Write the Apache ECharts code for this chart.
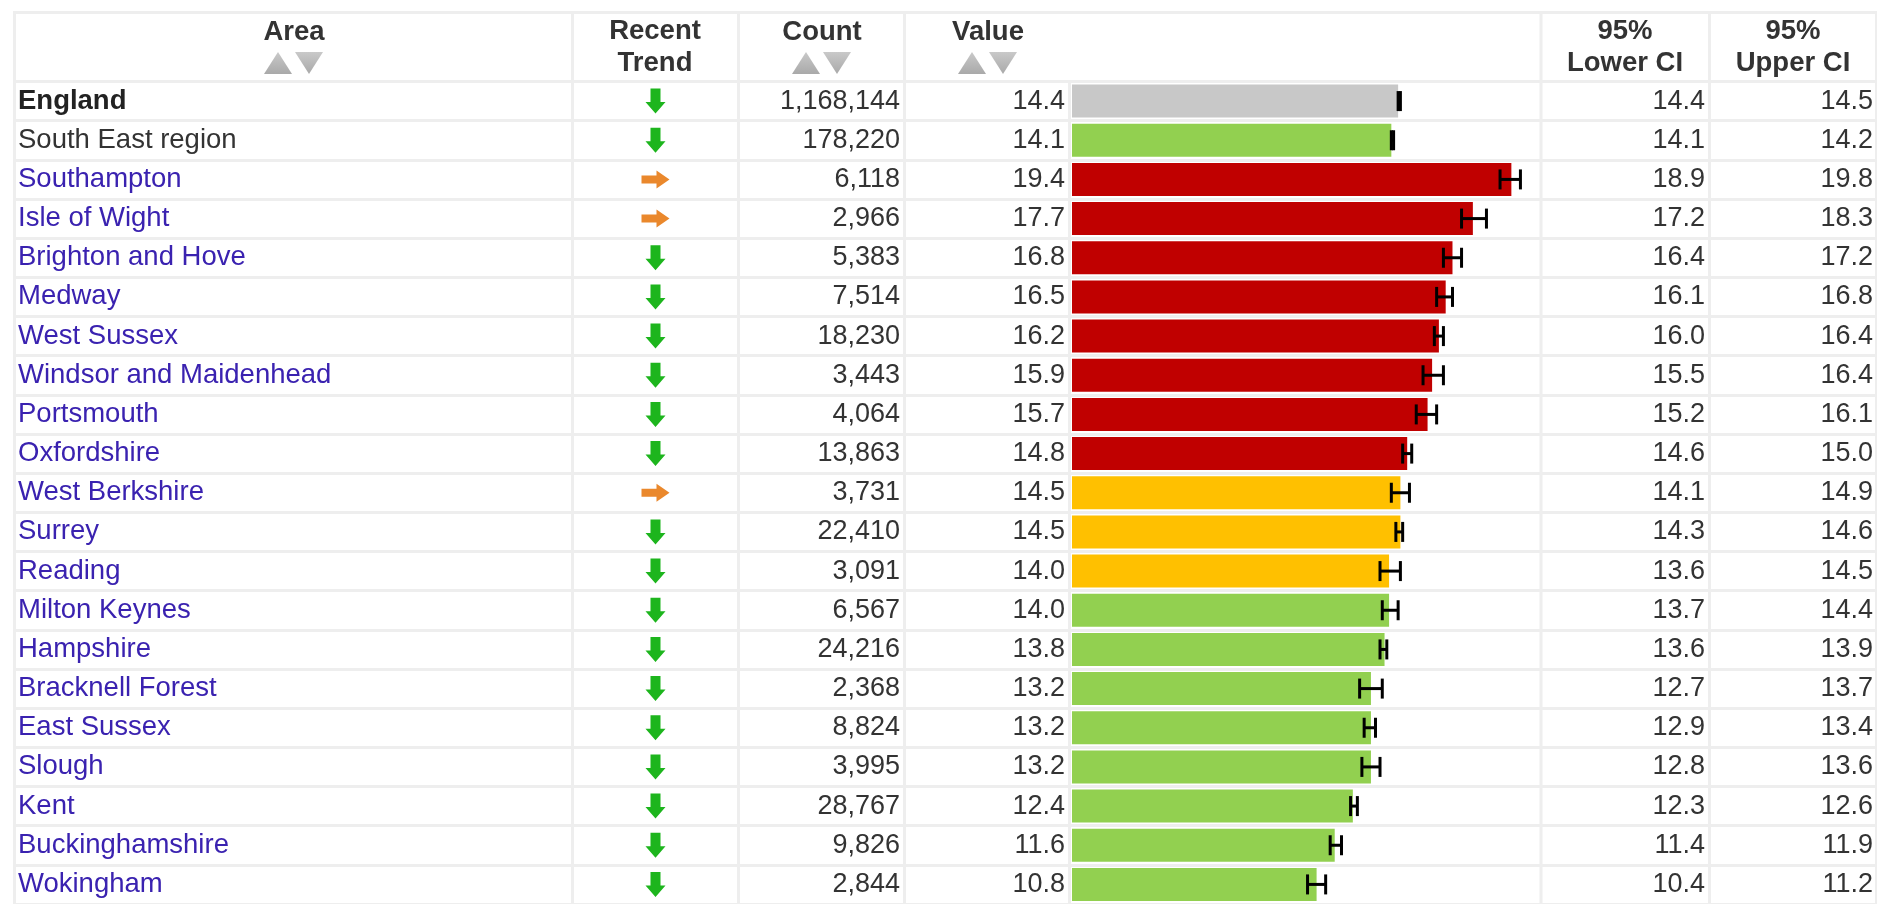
<!DOCTYPE html>
<html>
<head>
<meta charset="utf-8">
<script src="https://cdn.jsdelivr.net/npm/echarts@6/dist/echarts.min.js"></script>
<style>
html,body{margin:0;padding:0;background:#ffffff;}
#chart{width:1877px;height:904px;}
</style>
</head>
<body>
<div id="chart"></div>
<script>
// ---------------- data ----------------
const areas = ['England','South East region','Southampton','Isle of Wight','Brighton and Hove','Medway','West Sussex','Windsor and Maidenhead','Portsmouth','Oxfordshire','West Berkshire','Surrey','Reading','Milton Keynes','Hampshire','Bracknell Forest','East Sussex','Slough','Kent','Buckinghamshire','Wokingham'];
const trends = ['down','down','flat','flat','down','down','down','down','down','down','flat','down','down','down','down','down','down','down','down','down','down'];
const counts = [1168144,178220,6118,2966,5383,7514,18230,3443,4064,13863,3731,22410,3091,6567,24216,2368,8824,3995,28767,9826,2844];
const values = [14.4,14.1,19.4,17.7,16.8,16.5,16.2,15.9,15.7,14.8,14.5,14.5,14.0,14.0,13.8,13.2,13.2,13.2,12.4,11.6,10.8];
const lowerCI = [14.4,14.1,18.9,17.2,16.4,16.1,16.0,15.5,15.2,14.6,14.1,14.3,13.6,13.7,13.6,12.7,12.9,12.8,12.3,11.4,10.4];
const upperCI = [14.5,14.2,19.8,18.3,17.2,16.8,16.4,16.4,16.1,15.0,14.9,14.6,14.5,14.4,13.9,13.7,13.4,13.6,12.6,11.9,11.2];
const significance = ['benchmark','similar','higher','higher','higher','higher','higher','higher','higher','higher','worse','worse','worse','similar','similar','similar','similar','similar','similar','similar','similar'];
const headerLabels = ['Area','Recent\nTrend','Count','Value','95%\nLower CI','95%\nUpper CI'];

// ---------------- styles / layout ----------------
const colorMap = {benchmark:'#c8c8c8', similar:'#92d050', higher:'#c00000', worse:'#ffc000'};
const LINE = '#eeeeee';
const FONT = '"Liberation Sans", Arial, sans-serif';
const ROW_TOP = 81.5, ROW_H = 39.33, N = areas.length;
const TXT = '#333333', LINK = '#3a22b0';
const FS_NAME = 27.5, FS_NUM = 27, FS_HEAD = 27.5;

const cats = areas.map((a, i) => String(i));

function fmtCount(n){ return n.toString().replace(/\B(?=(\d{3})+(?!\d))/g, ','); }

const chart = echarts.init(document.getElementById('chart'), null, {renderer:'canvas'});

// structure lines (table borders)
const graphics = [];
function rect(x,y,w,h){ graphics.push({type:'rect', z:0, shape:{x,y,width:w,height:h}, style:{fill:LINE}, silent:true}); }
rect(13,11,1864,3);          // top border
rect(13,11,3,893);           // left border
rect(1875,11,2,893);         // right border
rect(571,14,3,890);
rect(737,14,3,890);
rect(903,14,3,890);
rect(1068,80,3,824);
rect(1539.5,14,3,890);
rect(1708,14,3,890);

// header labels
function htext(t,x,y){ graphics.push({type:'text', z:5, x, y, style:{text:t, fill:'#333333', font:'bold '+FS_HEAD+'px '+FONT, align:'center', verticalAlign:'middle'}, silent:true}); }
function hTwo(lbl,x){ const p = lbl.split('\n'); htext(p[0],x,31); htext(p[1],x,63.5); }
htext(headerLabels[0],294,32);
hTwo(headerLabels[1],655);
htext(headerLabels[2],822,32);
htext(headerLabels[3],988,32);
hTwo(headerLabels[4],1625);
hTwo(headerLabels[5],1793);

// sort triangles
function sorter(cx){
  const grad = new echarts.graphic.LinearGradient(0,0,0,1,[{offset:0,color:'#c9c9c9'},{offset:1,color:'#a9a9a9'}]);
  graphics.push({type:'polygon', z:5, shape:{points:[[cx-30,74],[cx-2,74],[cx-16,52]]}, style:{fill:grad}, silent:true});
  graphics.push({type:'polygon', z:5, shape:{points:[[cx+1,52],[cx+29,52],[cx+15,74]]}, style:{fill:grad}, silent:true});
}
sorter(294); sorter(822); sorter(988);

// text columns rendered through the category axis of grid 0
function renderRow(params, api){
  const i = api.value(1);
  const y = api.coord([0, i])[1];
  const kids = [];
  const nameStyle = i === 0 ? {fill:'#222222', font:'bold '+FS_NAME+'px '+FONT}
                  : i === 1 ? {fill:TXT, font:FS_NAME+'px '+FONT}
                  : {fill:LINK, font:FS_NAME+'px '+FONT};
  kids.push({type:'text', x:18, y, style:Object.assign({text:areas[i], align:'left', verticalAlign:'middle'}, nameStyle)});
  const cx = 655.5;
  if (trends[i] === 'down') {
    kids.push({type:'polygon', shape:{points:[[cx-5,y-12.5],[cx+5,y-12.5],[cx+5,y+1],[cx+10,y+1],[cx,y+12.5],[cx-10,y+1],[cx-5,y+1]]}, style:{fill:'#1db51d'}});
  } else {
    kids.push({type:'polygon', shape:{points:[[cx-14,y-4],[cx+1,y-4],[cx+1,y-9],[cx+14,y],[cx+1,y+9],[cx+1,y+4],[cx-14,y+4]]}, style:{fill:'#ea882c'}});
  }
  const num = (t,x) => ({type:'text', x, y, style:{text:t, fill:TXT, font:FS_NUM+'px '+FONT, align:'right', verticalAlign:'middle'}});
  kids.push(num(fmtCount(counts[i]), 900));
  kids.push(num(values[i].toFixed(1), 1065));
  kids.push(num(lowerCI[i].toFixed(1), 1705));
  kids.push(num(upperCI[i].toFixed(1), 1873));
  return {type:'group', children:kids};
}

function renderCI(params, api){
  const lo = api.coord([api.value(0), api.value(2)]);
  const hi = api.coord([api.value(1), api.value(2)]);
  const y = lo[1];
  const st = {stroke:'#000000', lineWidth:3};
  return {type:'group', children:[
    {type:'line', shape:{x1:lo[0], y1:y, x2:hi[0], y2:y}, style:st},
    {type:'line', shape:{x1:lo[0], y1:y-10, x2:lo[0], y2:y+10}, style:st},
    {type:'line', shape:{x1:hi[0], y1:y-10, x2:hi[0], y2:y+10}, style:st}
  ]};
}

const option = {
  backgroundColor:'#ffffff',
  animation:false,
  graphic: graphics,
  grid:[
    {left:16, right:2, top:ROW_TOP, height:ROW_H*N},
    {left:1072, width:467, top:ROW_TOP, height:ROW_H*N}
  ],
  xAxis:[
    {gridIndex:0, type:'value', min:0, max:1, show:false},
    {gridIndex:1, type:'value', min:0, max:20.62, show:false}
  ],
  yAxis:[
    {gridIndex:0, type:'category', data:cats, inverse:true,
     axisLine:{show:false}, axisTick:{show:false}, axisLabel:{show:false},
     splitLine:{show:true, interval:0, lineStyle:{color:LINE, width:3}}},
    {gridIndex:1, type:'category', data:cats, inverse:true, show:false}
  ],
  series:[
    {type:'custom', xAxisIndex:0, yAxisIndex:0, z:4, clip:false,
     data: areas.map((a,i)=>[0, i]), encode:{x:0, y:1}, renderItem:renderRow},
    {type:'bar', xAxisIndex:1, yAxisIndex:1, z:3, barWidth:33,
     data: values.map((v,i)=>({value:v, itemStyle:{color:colorMap[significance[i]]}}))},
    {type:'custom', xAxisIndex:1, yAxisIndex:1, z:6, clip:false,
     data: areas.map((a,i)=>[lowerCI[i], upperCI[i], i]), encode:{x:[0,1], y:2}, renderItem:renderCI}
  ]
};
chart.setOption(option);
</script>
</body>
</html>
